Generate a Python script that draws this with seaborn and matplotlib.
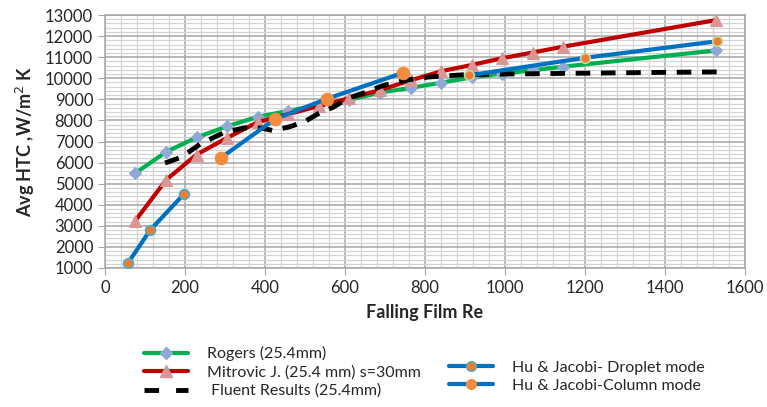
import matplotlib
matplotlib.use("Agg")
import matplotlib.pyplot as plt
import numpy as np
import pandas as pd
import seaborn as sns
from matplotlib.ticker import MultipleLocator
from matplotlib.lines import Line2D

sns.set_style("white")
plt.rcParams.update({
    "font.family": ["Lato", "DejaVu Sans"],
    "figure.dpi": 100,
})

# Rogers (25.4mm)
rogers_re = [76, 153, 229, 305, 382, 458, 535, 611, 688, 764, 840, 917, 993, 1069, 1146, 1528]
rogers_htc = [5500, 6510, 7190, 7720, 8170, 8450, 8740, 8980, 9320, 9540, 9790, 10040, 10220, 10380, 10550, 11320]

# Mitrovic J. (25.4 mm) s=30mm
mitro_re = [76, 153, 229, 305, 382, 458, 535, 611, 688, 764, 840, 917, 993, 1069, 1146, 1528]
mitro_htc = [3250, 5180, 6380, 7170, 7920, 8300, 8680, 9060, 9440, 9900, 10330, 10630, 10950, 11220, 11500, 12760]

# Fluent Results (25.4mm)
fluent_re = [150, 190, 240, 300, 350, 390, 420, 460, 500, 540, 570, 610, 650, 690, 720,
             760, 810, 860, 900, 1000, 1100, 1200, 1300, 1400, 1530]
fluent_htc = [5980, 6250, 6900, 7450, 7650, 7640, 7520, 7690, 7950, 8400, 8620, 9070, 9320, 9620, 9780,
              9930, 10060, 10120, 10170, 10200, 10220, 10240, 10260, 10280, 10300]

# Hu & Jacobi - droplet mode
drop_re = [58, 113, 198]
drop_htc = [1250, 2800, 4520]

# Hu & Jacobi - column mode
col_re = [290, 425, 554, 744]
col_htc = [6230, 8060, 9020, 10250]

# Hu & Jacobi - high Re points
high_re = [911, 1200, 1529]
high_htc = [10140, 10970, 11750]

GREEN = "#00B050"
RED = "#C00000"
BLUE = "#0070C0"
DIAMOND = "#8EA9D6"
TRI = "#D99694"
ORANGE = "#ED7D31"
ORANGE_L = "#F08C3C"

fig = plt.figure(figsize=(7.67, 4.07))
ax = fig.add_axes([105 / 767, 1 - 268 / 407, 640 / 767, 253 / 407])

def draw(x, y, **kw):
    df = pd.DataFrame({"Re": x, "HTC": y})
    sns.lineplot(data=df, x="Re", y="HTC", ax=ax, sort=False, estimator=None, **kw)

draw(rogers_re, rogers_htc, color=GREEN, lw=3, marker="D", markersize=6.5,
     markerfacecolor=DIAMOND, markeredgecolor=DIAMOND, zorder=3)
draw(mitro_re, mitro_htc, color=RED, lw=3, marker="^", markersize=9,
     markerfacecolor=TRI, markeredgecolor=TRI, zorder=4)
draw(fluent_re, fluent_htc, color="black", lw=3.5, dashes=(3, 2.2), zorder=5)
draw(drop_re, drop_htc, color=BLUE, lw=3, marker="o", markersize=7,
     markerfacecolor=ORANGE, markeredgecolor="#4BACC6", markeredgewidth=1.2, zorder=6)
draw(col_re, col_htc, color=BLUE, lw=3, marker="o", markersize=9,
     markerfacecolor=ORANGE_L, markeredgecolor=ORANGE_L, zorder=6)
draw(high_re, high_htc, color=BLUE, lw=3, marker="o", markersize=7,
     markerfacecolor=ORANGE, markeredgecolor="#C4D79B", markeredgewidth=1.2, zorder=6)

ax.set_xlim(0, 1600)
ax.set_ylim(1000, 13000)
ax.xaxis.set_major_locator(MultipleLocator(200))
ax.xaxis.set_minor_locator(MultipleLocator(40))
ax.yaxis.set_major_locator(MultipleLocator(1000))
ax.yaxis.set_minor_locator(MultipleLocator(200))
ax.grid(which="major", color="#A6A6A6", lw=1.1)
ax.grid(which="minor", color="#D4D4D4", lw=0.9)
ax.set_axisbelow(True)
for s in ax.spines.values():
    s.set_color("#A6A6A6")
    s.set_linewidth(1.1)
ax.tick_params(which="major", direction="out", length=5, color="#A6A6A6",
               labelsize=12, left=True, bottom=True)
ax.tick_params(which="minor", length=0)

ax.set_xlabel("Falling Film Re", fontsize=13, fontweight="bold", labelpad=6)
ax.set_ylabel("Avg HTC ,W/m$^2$ K", fontsize=13, fontweight="bold", labelpad=6)

left_handles = [
    Line2D([], [], color=GREEN, lw=3, marker="D", markersize=6,
           markerfacecolor=DIAMOND, markeredgecolor=DIAMOND),
    Line2D([], [], color=RED, lw=3, marker="^", markersize=8,
           markerfacecolor=TRI, markeredgecolor=TRI),
    Line2D([], [], color="black", lw=3.5, dashes=(3, 3.5)),
]
left_labels = ["Rogers (25.4mm)", "Mitrovic J. (25.4 mm) s=30mm", " Fluent Results (25.4mm)"]
right_handles = [
    Line2D([], [], color=BLUE, lw=3, marker="o", markersize=7,
           markerfacecolor=ORANGE, markeredgecolor="#4BACC6"),
    Line2D([], [], color=BLUE, lw=3, marker="o", markersize=7,
           markerfacecolor=ORANGE_L, markeredgecolor=ORANGE_L),
]
right_labels = ["Hu & Jacobi- Droplet mode", "Hu & Jacobi-Column mode"]

leg_kw = dict(frameon=False, fontsize=11.5, handlelength=2.7, handletextpad=1.2,
              labelspacing=0.25, borderaxespad=0)
fig.legend(left_handles, left_labels, loc="upper left",
           bbox_to_anchor=(138 / 767, 1 - 340 / 407), **leg_kw)
fig.legend(right_handles, right_labels, loc="upper left",
           bbox_to_anchor=(443 / 767, 1 - 354 / 407), **leg_kw)

fig.savefig("out.png", dpi=100)
